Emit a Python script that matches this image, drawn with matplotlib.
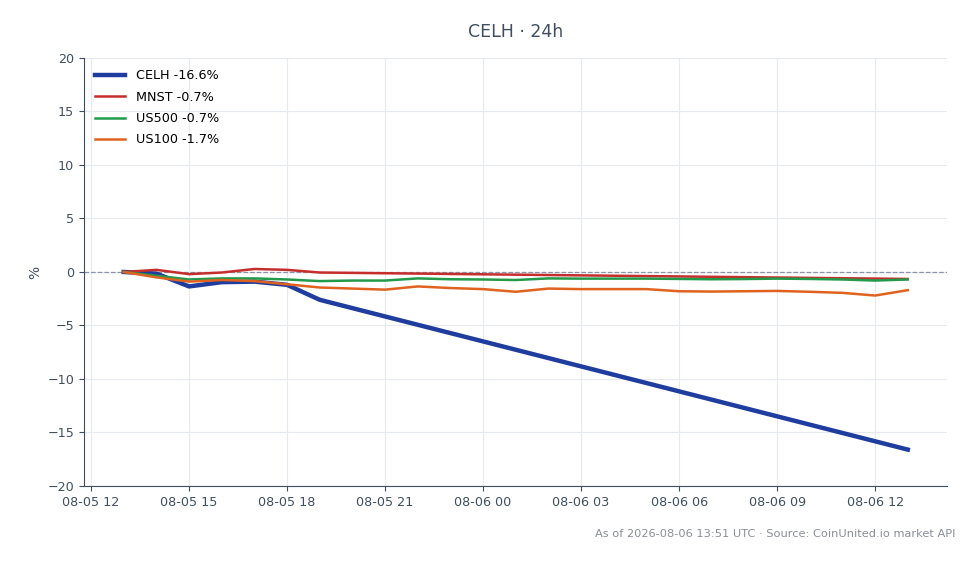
import pandas as pd
import matplotlib
matplotlib.use("Agg")
import matplotlib.pyplot as plt
import matplotlib.dates as mdates

# hourly stamps, 08-05 13:00 -> 08-06 13:00
horas = pd.date_range("2026-08-05 13:00", "2026-08-06 13:00", freq="h")

# stock series only trade until 19:00, then one point at the end
horas_acciones = list(horas[:7]) + [horas[-1]]
celh = [0.0, -0.15, -1.35, -0.95, -0.9, -1.2, -2.6, -16.6]
mnst = [0.0, 0.2, -0.2, -0.05, 0.28, 0.2, -0.05, -0.65]

us500 = [0.0, -0.35, -0.7, -0.6, -0.6, -0.7, -0.85, -0.8, -0.8, -0.6, -0.68,
         -0.7, -0.75, -0.6, -0.62, -0.62, -0.62, -0.65, -0.68, -0.66, -0.62,
         -0.65, -0.7, -0.8, -0.7]
us100 = [0.0, -0.5, -0.9, -0.75, -0.85, -1.15, -1.45, -1.55, -1.65, -1.35,
         -1.5, -1.6, -1.85, -1.55, -1.6, -1.6, -1.6, -1.8, -1.83, -1.8, -1.77,
         -1.85, -1.95, -2.2, -1.7]

series = [
    ("CELH -16.6%", horas_acciones, celh, "#1f3d9e", 3.2),
    ("MNST -0.7%", horas_acciones, mnst, "#c62d2d", 1.8),
    ("US500 -0.7%", horas, us500, "#229a4a", 1.8),
    ("US100 -1.7%", horas, us100, "#e0621f", 1.8),
]

texto = "#3f4f60"
fig = plt.figure(figsize=(9.79, 5.64), dpi=100)
ax = fig.add_axes([0.0858, 0.1383, 0.8815, 0.7589])

ax.axhline(0, color="#8a94a6", linestyle="--", linewidth=0.9, zorder=1)
for nombre, x, y, color, ancho in series:
    ax.plot(x, y, color=color, linewidth=ancho, label=nombre, zorder=3)

ax.set_ylim(-20, 20)
ax.set_yticks(range(-20, 21, 5))
ax.set_xlim(pd.Timestamp("2026-08-05 11:47"), pd.Timestamp("2026-08-06 14:12"))
ax.xaxis.set_major_locator(mdates.HourLocator(byhour=[0, 3, 6, 9, 12, 15, 18, 21]))
ax.xaxis.set_major_formatter(mdates.DateFormatter("%m-%d %H"))

ax.grid(True, color="#e6eaef", linewidth=0.8)
ax.set_axisbelow(True)
for lado in ["top", "right"]:
    ax.spines[lado].set_visible(False)
for lado in ["left", "bottom"]:
    ax.spines[lado].set_color("#3d4d5d")
ax.tick_params(colors="#3d4d5d", labelcolor=texto, labelsize=9.2)
ax.set_ylabel("%", color=texto, fontsize=10, labelpad=4)

ax.set_title("CELH · 24h", color=texto, fontsize=12.5, pad=15)

ax.legend(loc="upper left", frameon=False, fontsize=9.2, handlelength=2.3,
          borderaxespad=0.5, labelspacing=0.65, handletextpad=0.9)

fig.text(0.976, 0.053, "As of 2026-08-06 13:51 UTC · Source: CoinUnited.io market API",
         ha="right", va="center", fontsize=8.2, color="#8a8f96")

fig.savefig("out.png", dpi=100)
